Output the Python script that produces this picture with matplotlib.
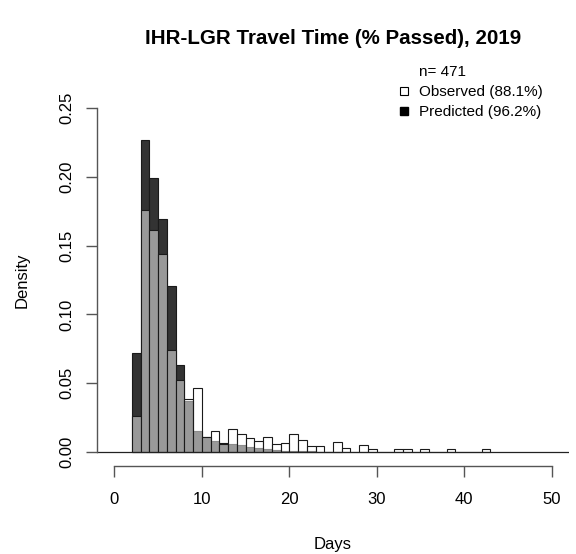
import numpy as np
import matplotlib
matplotlib.use("Agg")
import matplotlib.pyplot as plt
from matplotlib.lines import Line2D

plt.rcParams['font.family'] = ['Liberation Sans', 'DejaVu Sans']

# histogram bins (left edge, days), 1-day wide
obs_bins = [2, 3, 4, 5, 6, 7, 8, 9, 10, 11, 12, 13, 14, 15, 16, 17, 18, 19, 20, 21,
            22, 23, 24, 25, 26, 27, 28, 29, 30, 31, 32, 33, 34, 35, 36, 37, 38, 39,
            40, 41, 42]
obs_density = [0.0265, 0.176, 0.161, 0.144, 0.0745, 0.0525, 0.0388, 0.0465, 0.0114,
               0.0152, 0.0058, 0.0169, 0.0129, 0.0106, 0.0085, 0.0108, 0.0063, 0.0068,
               0.0132, 0.0090, 0.0045, 0.0042, 0.0, 0.0072, 0.0030, 0.0, 0.0050,
               0.0026, 0.0, 0.0, 0.0024, 0.0024, 0.0, 0.0024, 0.0, 0.0, 0.0024, 0.0,
               0.0, 0.0, 0.0024]

pred_bins = [2, 3, 4, 5, 6, 7, 8, 9, 10, 11, 12, 13, 14, 15, 16, 17, 18, 19, 20, 21,
             22, 23, 24, 25]
pred_density = [0.0722, 0.2265, 0.199, 0.1696, 0.1209, 0.0635, 0.037, 0.0157, 0.011,
                0.0078, 0.0069, 0.0060, 0.0049, 0.0036, 0.0029, 0.0021, 0.0016, 0.0012,
                0.0010, 0.0008, 0.0006, 0.0004, 0.0003, 0.0002]

n_fish = 471
pct_obs = 88.1
pct_pred = 96.2

fig = plt.figure(figsize=(5.76, 5.54), dpi=100)
ax = fig.add_axes([97 / 576, 1 - 466 / 554, 472 / 576, 372 / 554])

# predicted drawn dark, observed as half-transparent white on top -> overlap is grey
ax.bar(pred_bins, pred_density, width=1, align='edge', color='#333333',
       edgecolor='#1a1a1a', linewidth=0.8)
ax.bar(obs_bins, obs_density, width=1, align='edge', color=(1, 1, 1, 0.5),
       edgecolor='#1a1a1a', linewidth=0.8)
ax.plot([-2, 52], [0, 0], color='#222222', linewidth=0.9)

ax.set_xlim(-2, 52)
ax.set_ylim(-0.01, 0.26)
ax.set_xticks([0, 10, 20, 30, 40, 50])
ax.set_yticks([0.0, 0.05, 0.10, 0.15, 0.20, 0.25])
ax.set_yticklabels(['0.00', '0.05', '0.10', '0.15', '0.20', '0.25'],
                   rotation=90, va='center')
for s in ['top', 'right']:
    ax.spines[s].set_visible(False)
ax.spines['bottom'].set_bounds(0, 50)
ax.spines['left'].set_bounds(0, 0.25)
for s in ['bottom', 'left']:
    ax.spines[s].set_color('#555555')
    ax.spines[s].set_linewidth(1.0)
ax.tick_params(length=8, width=1.0, color='#555555', labelsize=12)
ax.tick_params(axis='x', pad=11)
ax.tick_params(axis='y', pad=8)

ax.set_xlabel('Days', fontsize=12, labelpad=21)
ax.set_ylabel('Density', fontsize=12, labelpad=22)
ax.set_title('IHR-LGR Travel Time (% Passed), 2019', fontsize=14.8, fontweight='bold',
             pad=36)

handles = [Line2D([], [], linestyle='none'),
           Line2D([], [], marker='s', linestyle='none', markersize=5.5,
                  markerfacecolor='white', markeredgecolor='black', markeredgewidth=0.8),
           Line2D([], [], marker='s', linestyle='none', markersize=5.5,
                  markerfacecolor='black', markeredgecolor='black')]
labels = [f'n= {n_fish}', f'Observed ({pct_obs}%)', f'Predicted ({pct_pred}%)']
fig.legend(handles, labels, loc='upper left', bbox_to_anchor=(398 / 576, 1 - 65 / 554),
           frameon=False, fontsize=11, handlelength=0.8, handletextpad=0.6,
           labelspacing=0.4, borderpad=0, borderaxespad=0)

fig.savefig('out.png', dpi=100)
